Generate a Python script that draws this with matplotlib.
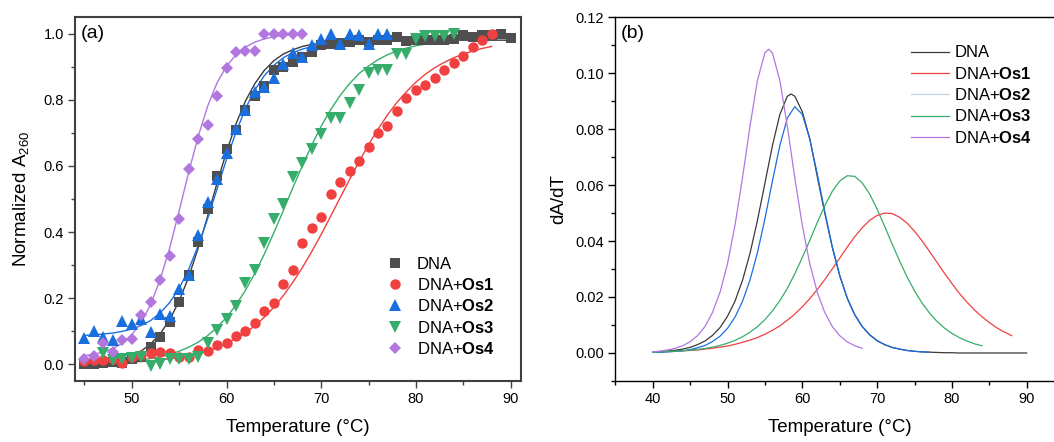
import numpy as np
import matplotlib
matplotlib.use('Agg')
import matplotlib.pyplot as plt
from matplotlib.lines import Line2D
from matplotlib.ticker import MultipleLocator, FormatStrFormatter

plt.rcParams['font.family'] = ['Liberation Sans', 'DejaVu Sans']
plt.rcParams['mathtext.fontset'] = 'custom'
plt.rcParams['mathtext.rm'] = 'Liberation Sans'
plt.rcParams['mathtext.it'] = 'Liberation Sans:italic'
plt.rcParams['mathtext.bf'] = 'Liberation Sans:bold'

# ---------------- data ----------------
labels = ['DNA', r'DNA+$\mathbf{Os1}$', r'DNA+$\mathbf{Os2}$', r'DNA+$\mathbf{Os3}$', r'DNA+$\mathbf{Os4}$']
colors = ['#4f4f4f', '#f14040', '#1a6fdf', '#37ad6b', '#b177de']
line_colors = ['#3a3a3a', '#f14040', '#1a6fdf', '#37ad6b', '#b177de']

# (a) melting curves, measured points
T_dna = np.arange(45, 91)
A_dna = [0.0, 0.0, 0.003, 0.007, 0.005, 0.017, 0.024, 0.052, 0.083, 0.128,
         0.19, 0.27, 0.37, 0.47, 0.57, 0.65, 0.71, 0.77, 0.81, 0.84,
         0.89, 0.90, 0.915, 0.93, 0.945, 0.965, 0.968, 0.97, 0.975, 0.98,
         0.975, 0.98, 0.98, 0.99, 0.978, 0.98, 0.98, 0.98, 0.98, 0.985,
         0.997, 0.99, 0.995, 0.995, 0.998, 0.988]
T_os1 = np.arange(45, 89)
A_os1 = [0.010, 0.012, 0.014, 0.017, 0.005, 0.024, 0.029, 0.034, 0.039, 0.035,
         0.022, 0.022, 0.045, 0.042, 0.060, 0.065, 0.087, 0.100, 0.125, 0.163,
         0.185, 0.242, 0.284, 0.367, 0.413, 0.446, 0.514, 0.551, 0.584, 0.614,
         0.657, 0.700, 0.720, 0.766, 0.806, 0.829, 0.846, 0.867, 0.889, 0.912,
         0.932, 0.958, 0.980, 1.0]
T_os2 = np.arange(45, 78)
A_os2 = [0.081, 0.10, 0.083, 0.075, 0.131, 0.121, 0.138, 0.098, 0.153, 0.145,
         0.229, 0.27, 0.392, 0.49, 0.56, 0.64, 0.713, 0.77, 0.824, 0.839,
         0.867, 0.909, 0.94, 0.93, 0.965, 0.985, 1.0, 0.967, 1.0, 0.995,
         0.967, 1.0, 1.0]
T_os3 = np.arange(47, 85)
A_os3 = [0.035, 0.012, 0.017, 0.020, 0.024, -0.004, 0.002, 0.017, 0.017, 0.017,
         0.022, 0.064, 0.103, 0.137, 0.178, 0.246, 0.286, 0.366, 0.44, 0.486,
         0.567, 0.61, 0.65, 0.696, 0.746, 0.746, 0.79, 0.83, 0.88, 0.889,
         0.889, 0.937, 0.937, 0.985, 0.992, 0.992, 0.992, 1.0]
T_os4 = np.arange(45, 69)
A_os4 = [0.017, 0.027, 0.065, 0.037, 0.075, 0.078, 0.15, 0.19, 0.256, 0.328,
         0.44, 0.59, 0.68, 0.725, 0.81, 0.897, 0.945, 0.948, 0.948, 0.998,
         0.998, 0.998, 1.0, 0.998]

# (a) fitted curves
fit_dna = [-0.001, 0.001, 0.004, 0.009, 0.016, 0.026, 0.041, 0.062, 0.093, 0.135,
           0.192, 0.264, 0.351, 0.447, 0.548, 0.643, 0.727, 0.796, 0.849, 0.889,
           0.918, 0.938, 0.951, 0.961, 0.967, 0.971, 0.974, 0.976, 0.977, 0.978,
           0.979, 0.979, 0.98, 0.98, 0.98, 0.98, 0.98, 0.98, 0.98, 0.98,
           0.98, 0.98, 0.98, 0.98, 0.98, 0.98]
fit_os1 = [0.002, 0.003, 0.004, 0.004, 0.006, 0.007, 0.009, 0.011, 0.014, 0.017,
           0.021, 0.026, 0.033, 0.041, 0.051, 0.063, 0.078, 0.096, 0.117, 0.143,
           0.173, 0.208, 0.248, 0.292, 0.341, 0.393, 0.448, 0.504, 0.559, 0.613,
           0.664, 0.711, 0.754, 0.792, 0.824, 0.853, 0.877, 0.897, 0.913, 0.927,
           0.938, 0.947, 0.955, 0.961]
fit_os2 = [0.088, 0.089, 0.092, 0.095, 0.100, 0.107, 0.118, 0.133, 0.156, 0.187,
           0.230, 0.287, 0.358, 0.440, 0.530, 0.620, 0.702, 0.773, 0.830, 0.873,
           0.904, 0.927, 0.942, 0.953, 0.960, 0.965, 0.968, 0.971, 0.972, 0.973,
           0.974, 0.974, 0.974]
T_fit3 = np.arange(45, 85)
fit_os3 = [0.003, 0.003, 0.005, 0.006, 0.008, 0.010, 0.014, 0.018, 0.023, 0.031,
           0.040, 0.052, 0.067, 0.087, 0.112, 0.142, 0.180, 0.224, 0.276, 0.334,
           0.398, 0.465, 0.534, 0.600, 0.663, 0.720, 0.770, 0.813, 0.849, 0.879,
           0.902, 0.921, 0.936, 0.947, 0.956, 0.963, 0.968, 0.972, 0.975, 0.978]
fit_os4 = [0.027, 0.031, 0.038, 0.048, 0.064, 0.090, 0.127, 0.182, 0.257, 0.352,
           0.464, 0.580, 0.688, 0.780, 0.851, 0.901, 0.936, 0.959, 0.974, 0.984,
           0.990, 0.994, 0.996, 0.998]

# (b) first derivative curves
dT_dna = np.sort(np.r_[np.arange(40, 91), 58.5])
d_dna = [0.0003, 0.0004, 0.0007, 0.0010, 0.0014, 0.0020, 0.0030, 0.0043, 0.0063, 0.0091,
         0.0131, 0.0185, 0.0259, 0.0355, 0.0473, 0.0606, 0.0740, 0.0852, 0.0917, 0.0925,
         0.0917, 0.0862, 0.0765, 0.0630, 0.0500, 0.0378, 0.0276, 0.0196, 0.0137, 0.0095,
         0.0065, 0.0044, 0.0030, 0.0020, 0.0014, 0.0009, 0.0006, 0.0004, 0.0003, 0.0002,
         0.0001, 0.0001, 0, 0, 0, 0, 0, 0, 0, 0, 0, 0]
dT_os1 = np.arange(40, 89)
d_os1 = [0.0003, 0.0004, 0.0005, 0.0006, 0.0008, 0.0009, 0.0011, 0.0014, 0.0017, 0.0021,
         0.0025, 0.0031, 0.0038, 0.0046, 0.0055, 0.0067, 0.0081, 0.0097, 0.0117, 0.0139,
         0.0165, 0.0194, 0.0227, 0.0262, 0.0300, 0.0339, 0.0378, 0.0415, 0.0447, 0.0474,
         0.0491, 0.0500, 0.0498, 0.0485, 0.0464, 0.0435, 0.0401, 0.0363, 0.0324, 0.0285,
         0.0248, 0.0213, 0.0182, 0.0154, 0.0130, 0.0109, 0.0090, 0.0075, 0.0062]
dT_os2 = np.arange(40, 78)
d_os2 = [0.0002, 0.0003, 0.0004, 0.0006, 0.0008, 0.0012, 0.0019, 0.0027, 0.0041, 0.0060,
         0.0088, 0.0128, 0.0184, 0.0260, 0.0358, 0.0479, 0.0613, 0.0741, 0.0839, 0.0880,
         0.0852, 0.0764, 0.0640, 0.0505, 0.0381, 0.0278, 0.0197, 0.0137, 0.0095, 0.0065,
         0.0044, 0.0030, 0.0020, 0.0014, 0.0009, 0.0006, 0.0004, 0.0003]
dT_os3 = np.arange(40, 85)
d_os3 = [0.0003, 0.0004, 0.0005, 0.0006, 0.0008, 0.0010, 0.0013, 0.0016, 0.0021, 0.0027,
         0.0035, 0.0045, 0.0058, 0.0074, 0.0094, 0.0119, 0.0150, 0.0187, 0.0231, 0.0283,
         0.0341, 0.0402, 0.0466, 0.0526, 0.0577, 0.0614, 0.0633, 0.0631, 0.0608, 0.0568,
         0.0514, 0.0453, 0.0390, 0.0329, 0.0272, 0.0222, 0.0179, 0.0143, 0.0113, 0.0089,
         0.0070, 0.0055, 0.0043, 0.0033, 0.0026]
dT_os4 = np.sort(np.r_[np.arange(40, 69), 55.5])
d_os4 = [0.0004, 0.0007, 0.0011, 0.0017, 0.0026, 0.0040, 0.0062, 0.0095, 0.0145, 0.0217,
         0.0319, 0.0456, 0.0625, 0.0809, 0.0973, 0.1072, 0.1085, 0.1072, 0.0973, 0.0809,
         0.0625, 0.0456, 0.0319, 0.0217, 0.0145, 0.0095, 0.0062, 0.0040, 0.0026, 0.0017]

# ---------------- figure ----------------
W, H = 1054, 442
fig = plt.figure(figsize=(W / 100, H / 100), dpi=100)
axa = fig.add_axes([75 / W, 61 / H, 446 / W, 364 / H])
axb = fig.add_axes([615.3 / W, 61 / H, 448.8 / W, 364 / H])

# panel (a)
fits = [(T_dna, fit_dna), (T_os1, fit_os1), (T_os2, fit_os2), (T_fit3, fit_os3), (T_os4, fit_os4)]
for (tt, ff), c in zip(fits, line_colors):
    axa.plot(tt, ff, color=c, lw=1.0, zorder=2)

points = [(T_dna, A_dna, 's', 6.8), (T_os1, A_os1, 'o', 7.5), (T_os2, A_os2, '^', 8.0),
          (T_os3, A_os3, 'v', 8.0), (T_os4, A_os4, 'D', 6.2)]
for (tt, aa, mk, ms), c, lab in zip(points, colors, labels):
    axa.plot(tt, aa, linestyle='', marker=mk, ms=ms, color=c, mew=0, label=lab, zorder=3)

axa.set_xlim(44, 91.1)
axa.set_ylim(-0.05, 1.05)
axa.xaxis.set_major_locator(MultipleLocator(10))
axa.xaxis.set_minor_locator(MultipleLocator(5))
axa.yaxis.set_major_locator(MultipleLocator(0.2))
axa.yaxis.set_minor_locator(MultipleLocator(0.1))
axa.yaxis.set_major_formatter(FormatStrFormatter('%.1f'))
for s in axa.spines.values():
    s.set_color('#404040')
    s.set_linewidth(1.5)
axa.tick_params(which='both', direction='out', top=False, right=False, labelsize=10.5, width=1.0,
                color='#404040', pad=3)
axa.tick_params(which='major', length=5)
axa.tick_params(which='minor', length=3)
axa.set_xlabel('Temperature (\u00b0C)', fontsize=13.5)
axa.set_ylabel(r'Normalized A$_{260}$', fontsize=13.5)
axa.xaxis.set_label_coords(0.5, -0.105)
axa.yaxis.set_label_coords(-0.098, 0.5)
axa.text(0.012, 0.955, '(a)', transform=axa.transAxes, fontsize=14, va='center', ha='left')
axa.legend(loc='upper left', bbox_to_anchor=(0.699, 0.342), frameon=False, fontsize=12,
           handlelength=1.0, handletextpad=0.8, labelspacing=0.32, borderpad=0, borderaxespad=0)

# panel (b)
curves = [(dT_dna, d_dna), (dT_os1, d_os1), (dT_os2, d_os2), (dT_os3, d_os3), (dT_os4, d_os4)]
for (tt, dd), c in zip(curves, line_colors):
    axb.plot(tt, dd, color=c, lw=0.9)

axb.set_xlim(35, 95)
axb.set_ylim(-0.01, 0.12)
axb.xaxis.set_major_locator(MultipleLocator(10))
axb.xaxis.set_minor_locator(MultipleLocator(5))
axb.yaxis.set_major_locator(MultipleLocator(0.02))
axb.yaxis.set_minor_locator(MultipleLocator(0.01))
axb.yaxis.set_major_formatter(FormatStrFormatter('%.2f'))
for s in axb.spines.values():
    s.set_color('black')
    s.set_linewidth(1.0)
axb.tick_params(which='both', direction='out', top=False, right=False, labelsize=10.5, width=1.0, pad=3)
axb.tick_params(which='major', length=5)
axb.tick_params(which='minor', length=3)
axb.set_xlabel('Temperature (\u00b0C)', fontsize=13.5)
axb.set_ylabel('dA/dT', fontsize=13.5)
axb.xaxis.set_label_coords(0.5, -0.105)
axb.yaxis.set_label_coords(-0.106, 0.5)
axb.text(0.012, 0.955, '(b)', transform=axb.transAxes, fontsize=14, va='center', ha='left')

leg_colors = ['#3a3a3a', '#f14040', '#c5d0dc', '#37ad6b', '#b177de']
handles = [Line2D([], [], color=c, lw=0.9) for c in leg_colors]
axb.legend(handles, labels, loc='upper left', bbox_to_anchor=(0.659, 0.922), frameon=False, fontsize=12,
           handlelength=2.3, handletextpad=0.3, labelspacing=0.32, borderpad=0, borderaxespad=0)

fig.savefig('out.png', dpi=100)
